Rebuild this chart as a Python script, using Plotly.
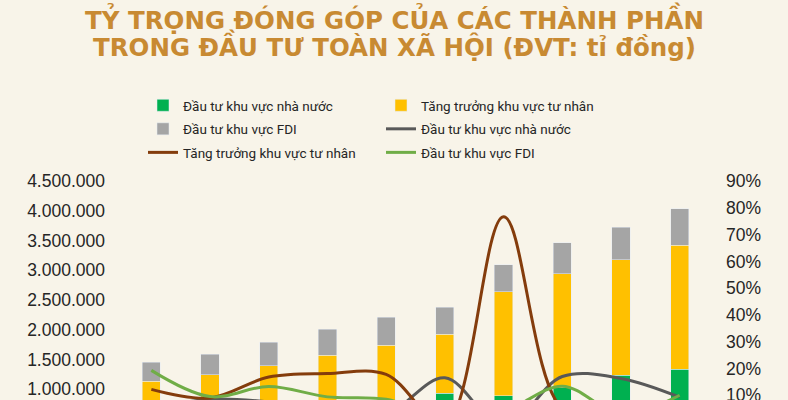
import plotly.graph_objects as go

# categories (x labels are cut off in the reference, years assumed)
years = ["2012", "2013", "2014", "2015", "2016", "2017", "2018", "2019", "2020", "2021"]

# bars, ti dong
state_inv = [573000, 628000, 680000, 723000, 738000, 933000, 893000, 1034000, 1240000, 1341000]
private_inv = [566000, 617000, 716000, 848000, 1000000, 990000, 1745000, 1912000, 1941000, 2080000]
fdi_inv = [319000, 347000, 398000, 436000, 475000, 458000, 453000, 514000, 547000, 616000]

# lines, %
state_line = [5.0, 8.5, 7.5, 4.0, 3.0, 16.5, -2.0, 17.0, 16.3, 9.3]
private_growth = [12.2, 9.0, 16.8, 18.1, 17.8, -1.0, 76.7, 5.0, 2.0, 7.0]
fdi_line = [19.3, 9.5, 13.3, 9.4, 8.5, 2.0, 4.0, 13.4, 3.0, 10.0]

left_ticks = [1000000, 1500000, 2000000, 2500000, 3000000, 3500000, 4000000, 4500000]
right_ticks = [10, 20, 30, 40, 50, 60, 70, 80, 90]
right_labels = ['%d%%' % v for v in right_ticks]

Colors = dict(
  state='#00B050',
  private='#FFC000',
  fdi='#A5A5A5',
  state_line='#595959',
  private_line='#843C0C',
  fdi_line='#70AD47',
  bg='#F8F4E9',
  title='#C88A32',
  text='#262626',
)

SANS = "Liberation Sans, Arial, sans-serif"
LEG = "Roboto, Liberation Sans, sans-serif"
TITLE = "DejaVu Sans, sans-serif"

W, H = 788, 400
ML, MR, MT, MB = 122, 79, 181, 0
PH = H - MT - MB
PW = W - ML - MR

# pixel -> paper helpers for text placed in the margins
def py(pix_y):
  return (H - MB - pix_y) / PH

def px(pix_x):
  return (pix_x - ML) / PW

fig = go.Figure()

# stacked bars
fig.add_trace(go.Bar(x=years, y=state_inv, name='Đầu tư khu vực nhà nước', marker_color=Colors['state'], legend='legend', legendgroup='a'))
fig.add_trace(go.Bar(x=years, y=private_inv, name='Tăng trưởng khu vực tư nhân', marker_color=Colors['private'], legend='legend2', legendgroup='b'))
fig.add_trace(go.Bar(x=years, y=fdi_inv, name='Đầu tư khu vực FDI', marker_color=Colors['fdi'], legend='legend', legendgroup='c'))

# lines on the % axis
line_kw = dict(mode='lines', yaxis='y2', line_shape='spline')
fig.add_trace(go.Scatter(x=years, y=state_line, name='Đầu tư khu vực nhà nước', line=dict(color=Colors['state_line'], width=3), legend='legend2', legendgroup='d', **line_kw))
fig.add_trace(go.Scatter(x=years, y=private_growth, name='Tăng trưởng khu vực tư nhân', line=dict(color=Colors['private_line'], width=3), legend='legend', legendgroup='e', **line_kw))
fig.add_trace(go.Scatter(x=years, y=fdi_line, name='Đầu tư khu vực FDI', line=dict(color=Colors['fdi_line'], width=3), legend='legend2', legendgroup='f', **line_kw))

# title as two annotations (tight leading)
title_lines = ['TỶ TRỌNG ĐÓNG GÓP CỦA CÁC THÀNH PHẦN', 'TRONG ĐẦU TƯ TOÀN XÃ HỘI (ĐVT: tỉ đồng)']
title_y = [19, 45]
for t, yy in zip(title_lines, title_y):
  fig.add_annotation(text='<b>%s</b>' % t, xref='paper', yref='paper', x=px(394), y=py(yy),
                     xanchor='center', yanchor='middle', showarrow=False,
                     font=dict(family=TITLE, size=24.5, color=Colors['title']))

legend_kw = dict(orientation='v', xanchor='left', yanchor='top', bgcolor='rgba(0,0,0,0)',
                 font=dict(family=LEG, size=13.5, color=Colors['text']),
                 tracegroupgap=3, itemwidth=30)
fig.update_layout(
  legend=dict(x=px(143), y=py(90), **legend_kw),
  legend2=dict(x=px(381), y=py(90), **legend_kw),
)

fig.update_layout(
  width=W, height=H,
  barmode='stack', bargap=0.69,
  paper_bgcolor=Colors['bg'], plot_bgcolor=Colors['bg'],
  separators=',.',
  margin=dict(l=ML, r=MR, t=MT, b=MB, autoexpand=False),
  font=dict(family=SANS, size=17.5, color=Colors['text']),
  xaxis=dict(showticklabels=False, showgrid=False, zeroline=False, showline=False, automargin=False),
  yaxis=dict(range=[820000, 4502000], tickvals=left_ticks, ticklabeloverflow='allow',
             tickformat=',d', showgrid=False, zeroline=False, showline=False, ticklabelstandoff=16, automargin=False),
  yaxis2=dict(range=[8.23, 90.05], overlaying='y', side='right', tickvals=right_ticks, ticktext=right_labels,
              ticklabeloverflow='allow', showgrid=False, zeroline=False, showline=False, ticklabelstandoff=16, automargin=False),
)

# drop the default body margin so the figure sits at the window corner
fig.write_html("out.html", config={'displayModeBar': False},
               post_script="document.body.style.margin='0';document.body.style.background='%s';" % Colors['bg'])
